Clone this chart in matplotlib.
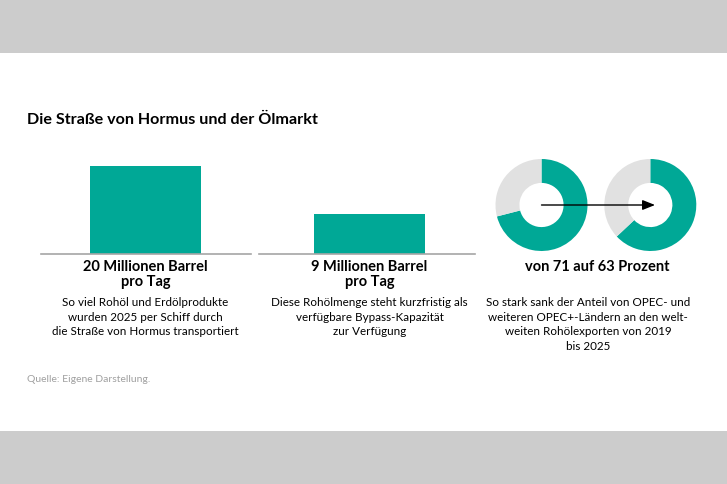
import numpy as np
import matplotlib
matplotlib.use("Agg")
import matplotlib.pyplot as pl

# data
barValues = [20, 9]          # Millionen Barrel pro Tag
shareStart = 71              # Prozent 2019
shareEnd = 63                # Prozent 2025

title = "Die Straße von Hormus und der Ölmarkt"
headlines = ["20 Millionen Barrel\npro Tag", "9 Millionen Barrel\npro Tag", "von 71 auf 63 Prozent"]
descriptions = [
	"So viel Rohöl und Erdölprodukte\nwurden 2025 per Schiff durch\ndie Straße von Hormus transportiert",
	"Diese Rohölmenge steht kurzfristig als\nverfügbare Bypass-Kapazität\nzur Verfügung",
	"So stark sank der Anteil von OPEC- und\nweiteren OPEC+-Ländern an den welt-\nweiten Rohölexporten von 2019\nbis 2025",
]
source = "Quelle: Eigene Darstellung."

teal = "#00A896"
lightGray = "#E1E1E1"
bandGray = "#CCCCCC"

W, H = 727, 484
pl.rcParams['font.family'] = ['Lato', 'DejaVu Sans']

fig = pl.figure(figsize=(W / 100.0, H / 100.0), dpi=100)
ax = fig.add_axes([0, 0, 1, 1])
ax.set_xlim(0, W)
ax.set_ylim(H, 0)
ax.axis('off')

# grey bands top and bottom
ax.axhspan(0, 53, color=bandGray, lw=0)
ax.axhspan(431, H, color=bandGray, lw=0)

ax.text(27, 120, title, fontsize=11.6, fontweight='bold', va='center', ha='left', color='black')

# bars (pixel scale: 4.4 px per million barrel)
baseY = 254
scale = 4.4
barX = [145.5, 369.5]
ax.bar(barX, [-v * scale for v in barValues], bottom=baseY, width=111, color=teal, lw=0)
ax.plot([41, 251], [baseY, baseY], color='#A6A6A6', lw=1.2)
ax.plot([259, 475], [baseY, baseY], color='#A6A6A6', lw=1.2)

# donuts
def donut(cx, cy, r, share):
	dax = fig.add_axes([(cx - r) / W, (H - cy - r) / H, 2 * r / W, 2 * r / H])
	dax.pie([share, 100 - share], colors=[teal, lightGray], startangle=90, counterclock=False,
		radius=1, wedgeprops=dict(width=0.52, linewidth=0))
	dax.set_xlim(-1, 1)
	dax.set_ylim(-1, 1)
	dax.set_aspect('equal')
	dax.axis('off')

donut(541.5, 205, 46, shareStart)
donut(650.3, 205, 46, shareEnd)

# arrow on top of donuts
ax2 = fig.add_axes([0, 0, 1, 1])
ax2.set_xlim(0, W)
ax2.set_ylim(H, 0)
ax2.axis('off')
ax2.annotate("", xy=(655, 205), xytext=(541.5, 205),
	arrowprops=dict(arrowstyle='-|>,head_length=0.75,head_width=0.3', color='black', lw=1.0, shrinkA=0, shrinkB=0))

# texts
colX = [145.5, 369.5, 597]
for i in range(3):
	ax2.text(colX[i], 260, headlines[i], fontsize=10.5, fontweight='bold', ha='center', va='top',
		linespacing=1.1, color='black')
descX = [145.5, 369.5, 588]
for i in range(3):
	ax2.text(descX[i], 297, descriptions[i], fontsize=8.4, ha='center', va='top',
		linespacing=1.4, color='black')

ax2.text(27, 379, source, fontsize=7.5, ha='left', va='center', color='#A0A0A0')

pl.savefig('out.png', format='png', dpi=100)
